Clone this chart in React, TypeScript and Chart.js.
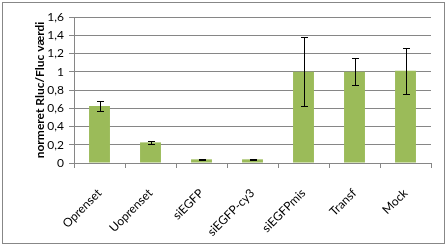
import React, { useEffect, useRef } from "react";
import { Chart, registerables } from "chart.js";

Chart.register(...registerables);

const categories = ["Oprenset", "Uoprenset", "siEGFP", "siEGFP-cy3", "siEGFPmis", "Transf", "Mock"];
const values = [0.625, 0.226, 0.04, 0.04, 1.0, 1.0, 1.01];
const errors = [0.055, 0.015, 0.008, 0.005, 0.38, 0.15, 0.25];
const yTitle = "normeret Rluc/Fluc værdi";

const FONT = "Lato, 'Open Sans', sans-serif";

const frame = {
  id: "frame",
  beforeDraw(chart: any) {
    const { ctx, width, height } = chart;
    ctx.save();
    ctx.fillStyle = "#ffffff";
    ctx.fillRect(0, 0, width, height);
    ctx.strokeStyle = "#878787";
    ctx.lineWidth = 1;
    ctx.strokeRect(2.5, 2.5, 442, 241);
    ctx.restore();
  },
};

const errorBars = {
  id: "errorBars",
  afterDatasetsDraw(chart: any) {
    const { ctx } = chart;
    const meta = chart.getDatasetMeta(0);
    const yScale = chart.scales.y;
    ctx.save();
    ctx.strokeStyle = "#000000";
    ctx.lineWidth = 1;
    meta.data.forEach((bar: any, i: number) => {
      const x = Math.round(bar.x) + 0.5;
      const yTop = Math.round(yScale.getPixelForValue(values[i] + errors[i])) + 0.5;
      const yBot = Math.round(yScale.getPixelForValue(values[i] - errors[i])) + 0.5;
      ctx.beginPath();
      ctx.moveTo(x, yTop);
      ctx.lineTo(x, yBot);
      ctx.moveTo(x - 3.5, yTop);
      ctx.lineTo(x + 3.5, yTop);
      ctx.moveTo(x - 3.5, yBot);
      ctx.lineTo(x + 3.5, yBot);
      ctx.stroke();
    });
    ctx.restore();
  },
};

export default function App() {
  const ref = useRef<HTMLCanvasElement>(null);
  useEffect(() => {
    document.body.style.margin = "0";
    const chart = new Chart(ref.current!, {
      type: "bar",
      data: {
        labels: categories,
        datasets: [
          {
            data: values,
            backgroundColor: "#9bbb59",
            borderWidth: 0,
            barPercentage: 0.41,
            categoryPercentage: 1,
          },
        ],
      },
      options: {
        animation: false,
        responsive: false,
        devicePixelRatio: 1,
        layout: { padding: { left: 0, top: 17, right: 16, bottom: 0 } },
        plugins: { legend: { display: false }, tooltip: { enabled: false } },
        scales: {
          x: {
            afterFit: (s: any) => { s.height = 83; },
            grid: { offset: true, drawOnChartArea: false, tickLength: 5, color: "#868686" },
            border: { color: "#868686" },
            ticks: {
              autoSkip: false,
              minRotation: 45,
              maxRotation: 45,
              padding: 18,
              color: "#000000",
              font: { family: FONT, size: 12 },
            },
          },
          y: {
            min: 0,
            max: 1.6,
            afterFit: (s: any) => { s.width = 74; },
            grid: { color: "#868686", tickLength: 5 },
            border: { color: "#868686" },
            ticks: {
              stepSize: 0.2,
              padding: 5,
              color: "#000000",
              font: { family: FONT, size: 12 },
              callback: (v: any) => {
                const r = Math.round(Number(v) * 10) / 10;
                return Number.isInteger(r) ? String(r) : r.toFixed(1).replace(".", ",");
              },
            },
            title: {
              display: true,
              text: yTitle,
              color: "#000000",
              font: { family: FONT, size: 12, weight: "bold" },
              padding: { top: 33, bottom: 0 },
            },
          },
        },
      },
      plugins: [frame, errorBars],
    });
    return () => chart.destroy();
  }, []);
  return (
    <div style={{ width: 447, height: 246 }}>
      <canvas ref={ref} width={447} height={246} />
    </div>
  );
}
